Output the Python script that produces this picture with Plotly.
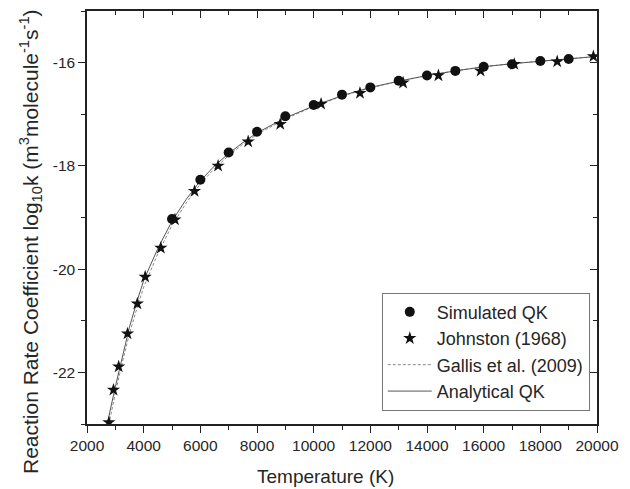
import plotly.graph_objects as go

# ---- data ----
sim_T = [5000, 6000, 7000, 8000, 9000, 10000, 11000, 12000, 13000, 14000,
         15000, 16000, 17000, 18000, 19000]
sim_k = [-19.03, -18.27, -17.74, -17.34, -17.04, -16.82, -16.62, -16.48, -16.35,
         -16.25, -16.16, -16.08, -16.03, -15.97, -15.93]

john_T = [2773, 2935, 3118, 3430, 3776, 4053, 4606, 5104, 5796, 6627, 7688, 8820,
          10261, 11634, 13157, 14403, 15892, 17080, 18595, 19873]
john_k = [-22.97, -22.34, -21.89, -21.25, -20.67, -20.15, -19.59, -19.04, -18.49,
          -18.0, -17.53, -17.19, -16.80, -16.59, -16.39, -16.25, -16.16, -16.03,
          -15.98, -15.88]

line_T = [2700, 2800, 3000, 3250, 3500, 3750, 4000, 4500, 5000, 5500, 6000, 6500,
          7000, 7500, 8000, 9000, 10000, 11000, 12000, 13000, 14000, 15000, 16000,
          17000, 18000, 19000, 20000]
analytical_k = [-23.07, -22.78, -22.28, -21.68, -21.12, -20.65, -20.22, -19.60, -19.07,
                -18.65, -18.29, -18.00, -17.76, -17.55, -17.36, -17.07, -16.84, -16.64,
                -16.48, -16.36, -16.25, -16.16, -16.08, -16.02, -15.97, -15.92, -15.88]
gallis_k = [-23.20, -22.92, -22.40, -21.80, -21.25, -20.78, -20.35, -19.70, -19.15,
            -18.72, -18.35, -18.05, -17.80, -17.58, -17.39, -17.09, -16.85, -16.65,
            -16.49, -16.36, -16.25, -16.16, -16.08, -16.02, -15.97, -15.92, -15.88]

x_ticks = [2000, 4000, 6000, 8000, 10000, 12000, 14000, 16000, 18000, 20000]
x_ticklabels = ["2000", "4000", "6000", "8000", "10000", "12000", "14000", "16000",
                "18000", "20000"]
y_ticks = [-22, -20, -18, -16]
y_ticklabels = ["-22", "-20", "-18", "-16"]

x_title = "Temperature (K)"
y_title = ("Reaction Rate Coefficient log<sub>10</sub>k "
           "(m<sup>3</sup>molecule<sup>-1</sup>s<sup>-1</sup>)")

FONT = "Liberation Sans, Arial, sans-serif"
TXT = "#262626"
AX = "#222222"

fig = go.Figure()

fig.add_trace(go.Scatter(x=line_T, y=gallis_k, mode="lines", name="Gallis et al. (2009)",
                         line=dict(color="#8a8a8a", width=1, dash="3px,2px"), legendrank=3))
fig.add_trace(go.Scatter(x=line_T, y=analytical_k, mode="lines", name="Analytical QK",
                         line=dict(color="#555555", width=1), legendrank=4))
fig.add_trace(go.Scatter(x=sim_T, y=sim_k, mode="markers", name="Simulated QK",
                         marker=dict(symbol="circle", size=10, color="#111111"), legendrank=1))
fig.add_trace(go.Scatter(x=john_T, y=john_k, mode="markers", name="Johnston (1968)",
                         marker=dict(symbol="star", size=10, color="#111111"), legendrank=2))
# invisible trace carrying the mirrored top/right axes
fig.add_trace(go.Scatter(x=[2000], y=[-23], xaxis="x2", yaxis="y2", mode="markers",
                         marker=dict(opacity=0), showlegend=False, hoverinfo="skip"))

fig.update_layout(
    width=630, height=489,
    margin=dict(l=87, r=24, t=11, b=65),
    paper_bgcolor="white", plot_bgcolor="white",
    font=dict(family=FONT, color=TXT, size=15),
    showlegend=True,
    legend=dict(x=0.578, y=0.318, xanchor="left", yanchor="top",
                bordercolor="#777777", borderwidth=1, bgcolor="rgba(255,255,255,0)",
                font=dict(size=18, family=FONT, color=TXT), itemwidth=44,
                tracegroupgap=0),
    xaxis=dict(range=[2000, 20000], tickvals=x_ticks, ticktext=x_ticklabels,
               showgrid=False, zeroline=False, showline=True, linecolor=AX, linewidth=1.5,
               ticks="outside", ticklen=7, tickwidth=1.2, tickcolor=AX,
               minor=dict(ticks="outside", ticklen=4, dtick=1000, tick0=2000,
                          tickcolor=AX, tickwidth=1.2, showgrid=False),
               tickfont=dict(size=15.5)),
    yaxis=dict(range=[-23, -15], tickvals=y_ticks, ticktext=y_ticklabels,
               showgrid=False, zeroline=False, showline=True, linecolor=AX, linewidth=1.5,
               ticks="outside", ticklen=7, tickwidth=1.2, tickcolor=AX,
               minor=dict(ticks="outside", ticklen=4, dtick=1, tick0=-23,
                          tickcolor=AX, tickwidth=1.2, showgrid=False),
               tickfont=dict(size=15.5)),
    xaxis2=dict(overlaying="x", side="top", range=[2000, 20000], tickvals=x_ticks,
                showticklabels=False, showgrid=False, zeroline=False, showline=True,
                linecolor=AX, linewidth=1.5, ticks="inside", ticklen=7, tickwidth=1.2,
                tickcolor=AX,
                minor=dict(ticks="inside", ticklen=4, dtick=1000, tick0=2000,
                           tickcolor=AX, tickwidth=1.2, showgrid=False)),
    yaxis2=dict(overlaying="y", side="right", range=[-23, -15], tickvals=y_ticks,
                showticklabels=False, showgrid=False, zeroline=False, showline=True,
                linecolor=AX, linewidth=1.5, ticks="inside", ticklen=7, tickwidth=1.2,
                tickcolor=AX,
                minor=dict(ticks="inside", ticklen=4, dtick=1, tick0=-23,
                           tickcolor=AX, tickwidth=1.2, showgrid=False)),
    annotations=[
        dict(text=x_title, xref="paper", yref="paper", x=0.468, y=-0.1276,
             xanchor="center", yanchor="middle", showarrow=False,
             font=dict(size=19, family=FONT, color=TXT)),
        dict(text=y_title, xref="paper", yref="paper", x=-0.1118, y=0.443,
             xanchor="center", yanchor="middle", showarrow=False, textangle=-90,
             font=dict(size=21, family=FONT, color=TXT)),
    ],
)

fig.write_html("out.html")
